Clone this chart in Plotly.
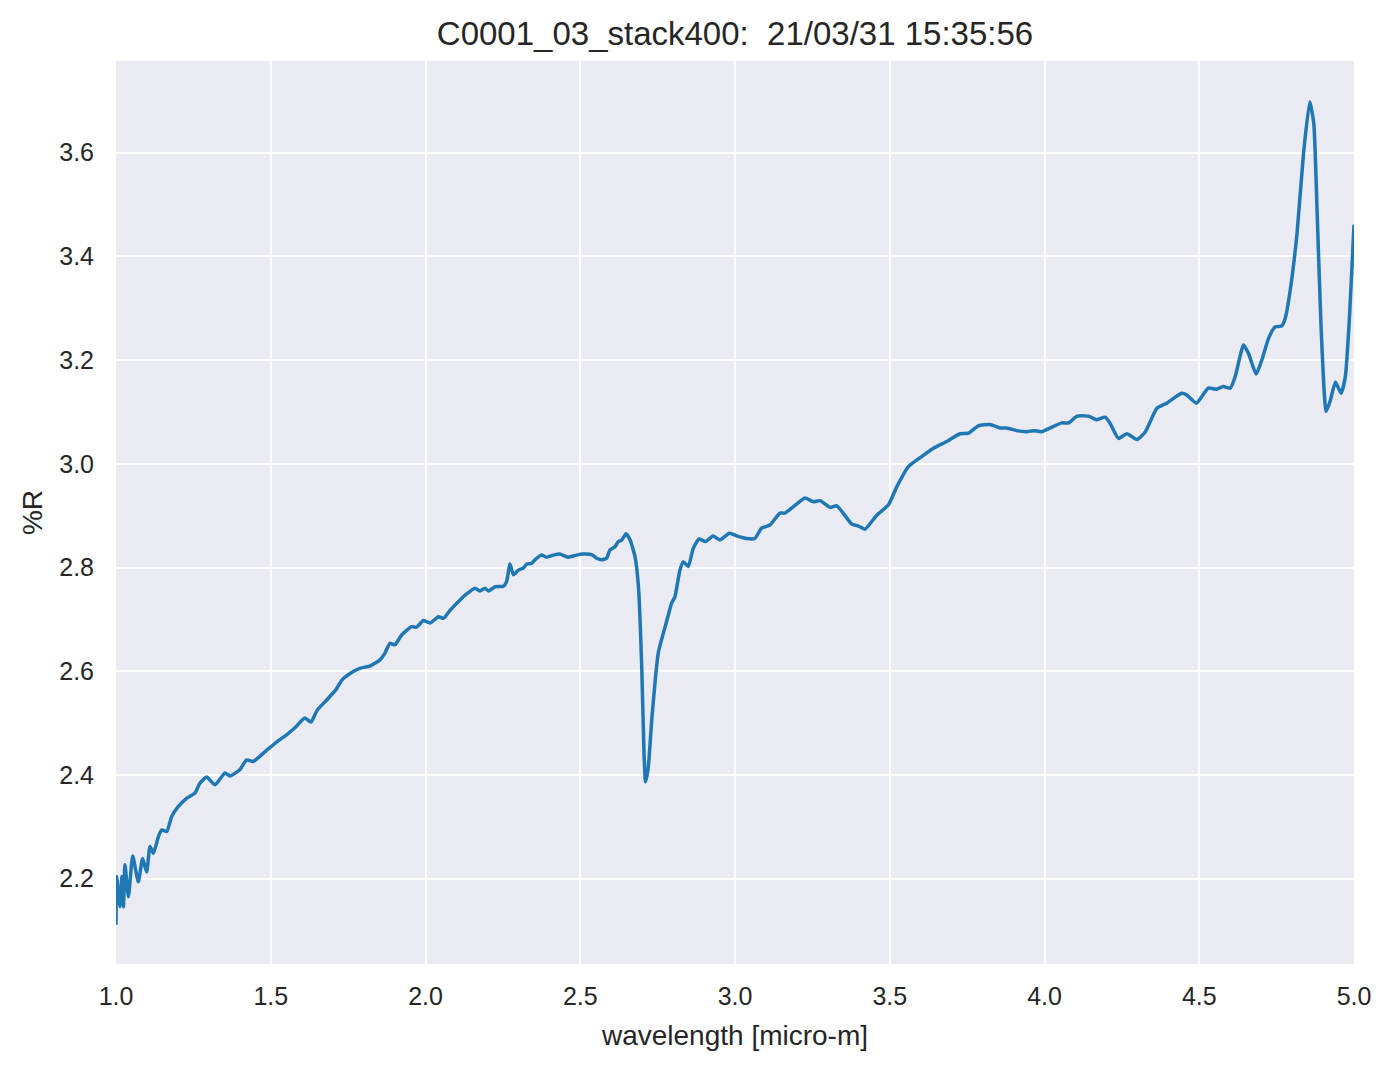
import plotly.graph_objects as go

# wavelength [micro-m]
wavelength = [
    1.000, 1.002, 1.013, 1.019, 1.024, 1.029, 1.040, 1.054, 1.072, 1.086, 1.099, 1.110, 1.121,
    1.137, 1.148, 1.164, 1.180, 1.201, 1.228, 1.255, 1.271, 1.293, 1.320, 1.352, 1.368,
    1.400, 1.422, 1.443, 1.487, 1.520, 1.550, 1.580, 1.610, 1.630, 1.650, 1.680, 1.710,
    1.730, 1.760, 1.790, 1.820, 1.840, 1.853, 1.869, 1.885, 1.901, 1.923, 1.955, 1.971,
    1.993, 2.015, 2.042, 2.058, 2.080, 2.111, 2.133, 2.160, 2.176, 2.192, 2.203, 2.225,
    2.252, 2.262, 2.273, 2.284, 2.300, 2.316, 2.327, 2.343, 2.354, 2.375, 2.391, 2.413,
    2.434, 2.461, 2.488, 2.510, 2.537, 2.553, 2.569, 2.585, 2.596, 2.612, 2.623, 2.634,
    2.648, 2.661, 2.677, 2.688, 2.699, 2.706, 2.711, 2.720, 2.731, 2.752, 2.779, 2.795,
    2.806, 2.822, 2.833, 2.849, 2.865, 2.884, 2.905, 2.929, 2.951, 2.982, 3.010, 3.037,
    3.064, 3.086, 3.113, 3.145, 3.161, 3.188, 3.226, 3.253, 3.275, 3.307, 3.329, 3.377,
    3.399, 3.420, 3.458, 3.496, 3.523, 3.561, 3.603, 3.641, 3.684, 3.727, 3.754, 3.786,
    3.824, 3.856, 3.878, 3.910, 3.943, 3.964, 3.991, 4.018, 4.056, 4.078, 4.105, 4.142,
    4.169, 4.196, 4.212, 4.239, 4.266, 4.299, 4.326, 4.363, 4.395, 4.443, 4.459, 4.491,
    4.529, 4.556, 4.578, 4.600, 4.616, 4.643, 4.659, 4.684, 4.702, 4.724, 4.745, 4.767,
    4.778, 4.794, 4.816, 4.837, 4.857, 4.870, 4.881, 4.894, 4.910, 4.924, 4.940, 4.958,
    4.972, 4.986, 5.000,
]

# %R
reflectance = [
    2.111, 2.204, 2.146, 2.204, 2.146, 2.227, 2.165, 2.244, 2.194, 2.239, 2.213, 2.262, 2.249,
    2.281, 2.294, 2.291, 2.320, 2.339, 2.355, 2.365, 2.384, 2.396, 2.381, 2.404, 2.398,
    2.410, 2.429, 2.426, 2.448, 2.464, 2.477, 2.492, 2.510, 2.502, 2.525, 2.544, 2.564,
    2.583, 2.597, 2.606, 2.610, 2.617, 2.622, 2.635, 2.654, 2.651, 2.670, 2.686, 2.685,
    2.698, 2.693, 2.705, 2.702, 2.718, 2.737, 2.749, 2.760, 2.755, 2.760, 2.755, 2.763,
    2.764, 2.773, 2.807, 2.786, 2.795, 2.799, 2.807, 2.808, 2.815, 2.824, 2.820, 2.824,
    2.826, 2.820, 2.824, 2.826, 2.825, 2.818, 2.815, 2.818, 2.834, 2.840, 2.850, 2.853,
    2.865, 2.853, 2.821, 2.763, 2.602, 2.442, 2.387, 2.416, 2.506, 2.635, 2.696, 2.731,
    2.744, 2.795, 2.811, 2.802, 2.837, 2.855, 2.850, 2.861, 2.853, 2.866, 2.860, 2.856,
    2.856, 2.876, 2.882, 2.905, 2.905, 2.917, 2.934, 2.927, 2.929, 2.916, 2.919, 2.884,
    2.880, 2.874, 2.901, 2.921, 2.956, 2.995, 3.014, 3.030, 3.043, 3.058, 3.059, 3.073,
    3.076, 3.069, 3.069, 3.064, 3.062, 3.064, 3.062, 3.069, 3.079, 3.079, 3.092, 3.092,
    3.085, 3.090, 3.078, 3.049, 3.058, 3.047, 3.062, 3.107, 3.117, 3.136, 3.133, 3.117,
    3.146, 3.144, 3.149, 3.146, 3.168, 3.229, 3.213, 3.173, 3.200, 3.242, 3.264, 3.266,
    3.281, 3.335, 3.445, 3.599, 3.698, 3.657, 3.483, 3.258, 3.101, 3.123, 3.158, 3.136,
    3.168, 3.290, 3.461,
]

title_text = "C0001_03_stack400:  21/03/31 15:35:56"
x_label = "wavelength [micro-m]"
y_label = "%R"
x_ticks = [1.0, 1.5, 2.0, 2.5, 3.0, 3.5, 4.0, 4.5, 5.0]
y_ticks = [2.2, 2.4, 2.6, 2.8, 3.0, 3.2, 3.4, 3.6]

FONT = "Liberation Sans, Arial, sans-serif"
TXT = "#262626"
FIG_W, FIG_H = 1378, 1053

fig = go.Figure()
fig.add_trace(go.Scatter(
    x=wavelength, y=reflectance, mode="lines",
    line=dict(color="#1f77b4", width=3.5, shape="spline", smoothing=0.5),
    showlegend=False,
))

fig.update_layout(
    width=FIG_W, height=FIG_H, autosize=False,
    margin=dict(l=108, r=32, t=53, b=97),
    paper_bgcolor="white", plot_bgcolor="#EAEAF2",
    font=dict(family=FONT, color=TXT, size=26),
    title=dict(text=title_text, xref="paper", x=0.5, xanchor="center",
               y=1 - 25 / FIG_H, yanchor="middle",
               font=dict(size=33, color=TXT, family=FONT)),
)
fig.update_xaxes(
    range=[1.0, 5.0], tickvals=x_ticks, ticktext=[f"{v:.1f}" for v in x_ticks],
    showgrid=True, gridcolor="white", gridwidth=2, zeroline=False, showline=False,
    ticks="outside", ticklen=10, tickcolor="rgba(0,0,0,0)",
    tickfont=dict(size=25, color=TXT, family=FONT),
    title=dict(text=x_label, font=dict(size=28, color=TXT, family=FONT), standoff=16),
)
fig.update_yaxes(
    range=[2.0355, 3.7768], tickvals=y_ticks, ticktext=[f"{v:.1f}" for v in y_ticks],
    showgrid=True, gridcolor="white", gridwidth=2, zeroline=False, showline=False,
    ticks="outside", ticklen=16, tickcolor="rgba(0,0,0,0)",
    tickfont=dict(size=25, color=TXT, family=FONT),
    title=dict(text=y_label, font=dict(size=28, color=TXT, family=FONT), standoff=8),
)

fig.write_html("out.html")
